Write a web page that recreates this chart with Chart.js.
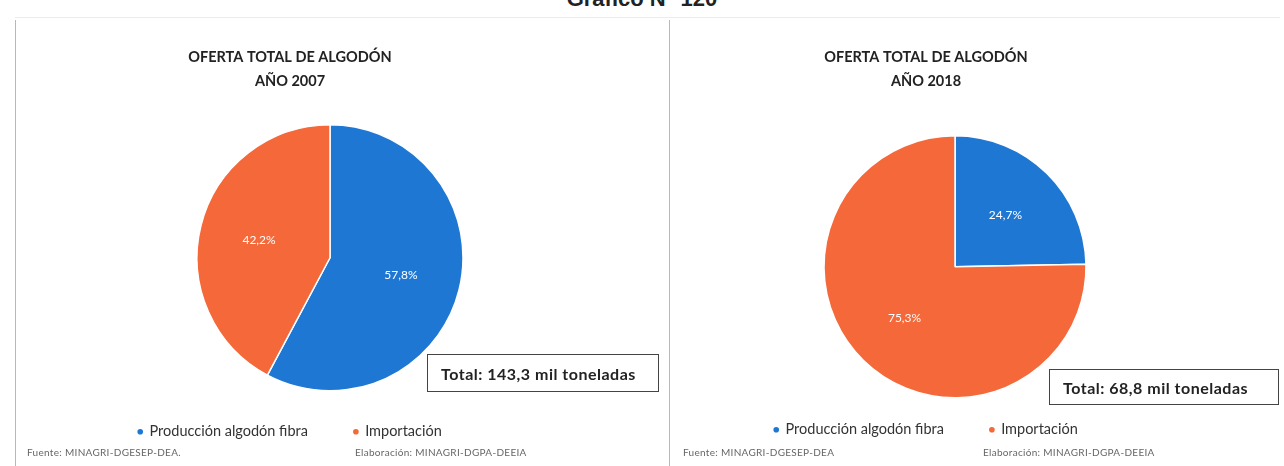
<!DOCTYPE html>
<html lang="es">
<head>
<meta charset="utf-8">
<script src="https://cdn.jsdelivr.net/npm/chart.js@4.4.1/dist/chart.umd.min.js"></script>
<style>
  body { margin: 0; background: #fff; font-family: Lato, 'Open Sans', sans-serif; }
  #page { position: relative; width: 1284px; height: 466px; overflow: hidden; background: #fff; }
  .head { position: absolute; left: 0; width: 1284px; top: -12px; text-align: center;
          font: bold 22px/22px 'Liberation Sans', Arial, sans-serif; color: #222; }
  .vline { position: absolute; top: 20px; bottom: 0; width: 1px; background: #b8b8b8; }
  .hline { position: absolute; top: 17px; height: 1px; background: #ececec; }
  .cv { position: absolute; }
  .total { position: absolute; border: 1px solid #444; box-sizing: border-box; letter-spacing: 0.5px;
           font: bold 16px Lato, sans-serif; color: #222; display: flex; align-items: center; padding-left: 13px; }
  .src { position: absolute; top: 446px; font-size: 10px; letter-spacing: 0.3px; color: #666; white-space: nowrap; }
</style>
</head>
<body>
<div id="page">
  <div class="head">Gráfico N° 120</div>
  <div class="hline" style="left:15px;width:1265px"></div>
  <div class="vline" style="left:15px"></div>
  <div class="vline" style="left:669px"></div>

  <div class="cv" style="left:20px;top:30px;width:540px;height:419px"><canvas id="pie2007"></canvas></div>
  <div class="cv" style="left:680px;top:30px;width:492px;height:417px"><canvas id="pie2018"></canvas></div>

  <div class="total" style="left:427px;top:354px;width:232px;height:38px">Total: 143,3 mil toneladas</div>
  <div class="total" style="left:1049px;top:369px;width:230px;height:36px">Total: 68,8 mil toneladas</div>

  <div class="src" style="left:27px">Fuente: MINAGRI-DGESEP-DEA.</div>
  <div class="src" style="left:355px">Elaboración: MINAGRI-DGPA-DEEIA</div>
  <div class="src" style="left:683px">Fuente: MINAGRI-DGESEP-DEA</div>
  <div class="src" style="left:983px">Elaboración: MINAGRI-DGPA-DEEIA</div>
</div>

<script>
const CATEGORIES = ['Producción algodón fibra', 'Importación'];
const SHARE_2007 = [57.8, 42.2];
const SHARE_2018 = [24.7, 75.3];
const COLORS     = ['#1f77d4', '#f4683a'];

Chart.defaults.font.family = "Lato, 'Open Sans', sans-serif";

const fmt = v => v.toFixed(1).replace('.', ',') + '%';

// moves the pie away from the centre of the title/legend
const pieShift = {
  id: 'pieShift',
  afterLayout(chart, args, opts) {
    const a = chart.chartArea;
    a.left += opts.dx; a.right += opts.dx;
    a.top  += opts.dy; a.bottom += opts.dy;
  }
};

const pieLabels = {
  id: 'pieLabels',
  afterDatasetsDraw(chart) {
    const { ctx } = chart;
    const values = chart.data.datasets[0].data;
    ctx.save();
    ctx.fillStyle = '#fff';
    ctx.font = "12px Lato, sans-serif";
    ctx.textAlign = 'center';
    ctx.textBaseline = 'middle';
    chart.getDatasetMeta(0).data.forEach((arc, i) => {
      const mid = (arc.startAngle + arc.endAngle) / 2;
      const r = arc.outerRadius * 0.55;
      ctx.fillText(fmt(values[i]), arc.x + Math.cos(mid) * r, arc.y + Math.sin(mid) * r);
    });
    ctx.restore();
  }
};

function makePie(id, year, values, radius, shift) {
  return new Chart(document.getElementById(id), {
    type: 'pie',
    data: {
      labels: CATEGORIES,
      datasets: [{
        data: values,
        backgroundColor: COLORS,
        borderColor: '#fff',
        borderWidth: 1.5,
        radius: radius,
      }]
    },
    plugins: [pieShift, pieLabels],
    options: {
      responsive: true,
      maintainAspectRatio: false,
      animation: false,
      plugins: {
        pieShift: shift,
        tooltip: { enabled: false },
        title: {
          display: true,
          text: ['OFERTA TOTAL DE ALGODÓN', 'AÑO ' + year],
          color: '#222',
          font: { size: 14.5, weight: 'bold', lineHeight: '24px' },
          padding: { top: 15, bottom: 20 },
        },
        legend: {
          position: 'bottom',
          labels: {
            color: '#333',
            font: { size: 14.5 },
            padding: 46,
            usePointStyle: true,
            boxWidth: 4,
            boxHeight: 4,
            generateLabels: () => CATEGORIES.map((text, i) => ({
              text, fillStyle: COLORS[i], strokeStyle: COLORS[i], lineWidth: 0,
              pointStyle: 'circle', hidden: false, index: i, fontColor: '#333'
            })),
          }
        }
      }
    }
  });
}

makePie('pie2007', 2007, SHARE_2007, 133, { dx: 40, dy: 12 });
makePie('pie2018', 2018, SHARE_2018, 131, { dx: 29, dy: 22 });
</script>
</body>
</html>
